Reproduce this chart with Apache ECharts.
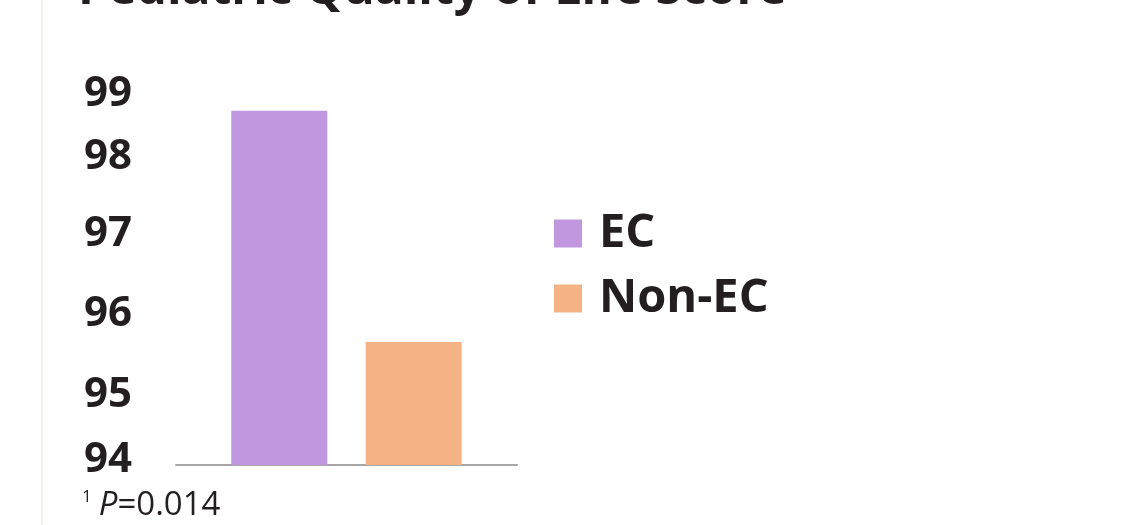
<!DOCTYPE html>
<html>
<head>
<meta charset="utf-8">
<script src="https://cdn.jsdelivr.net/npm/echarts@6/dist/echarts.min.js"></script>
<style>
  html, body { margin: 0; padding: 0; background: #fff; }
  #chart { width: 1132px; height: 525px; }
</style>
</head>
<body>
<div id="chart"></div>
<script>
// data
var categories = ['Pediatric Quality of Life Score'];
var ecValues = [98.75];
var nonEcValues = [95.65];
var seriesNames = ['EC', 'Non-EC'];
var yTicks = [94, 95, 96, 97, 98, 99];

// slide tick labels are not evenly spaced, nudge them (px, + = down)
var labelNudge = { 94: -5, 95: 5, 96: -2, 97: -7, 98: -10, 99: 2 };

var rich = {};
yTicks.forEach(function (t) {
	var n = labelNudge[t];
	rich['t' + t] = {
		fontFamily: 'Open Sans',
		fontWeight: 'bold',
		fontSize: 42,
		color: '#231f20',
		padding: n < 0 ? [0, 0, -2 * n, 0] : [2 * n, 0, 0, 0]
	};
});

var myChart = echarts.init(document.getElementById('chart'));

var option = {
	backgroundColor: '#ffffff',
	animation: false,
	title: [{
		text: 'Pediatric Quality of Life Score',
		left: 73,
		top: -39,
		textStyle: { fontFamily: 'Open Sans', fontWeight: 'bold', fontSize: 48, color: '#231f20' }
	}, {
		text: '{s|1} {i|P}{n|=0.014}',
		left: 77,
		top: 484,
		textStyle: {
			rich: {
				s: { fontFamily: 'Open Sans', fontWeight: 'normal', fontSize: 17, color: '#231f20', verticalAlign: 'top', padding: [0, 2, 14, 0] },
				i: { fontFamily: 'Open Sans', fontWeight: 'normal', fontStyle: 'italic', fontSize: 33, color: '#231f20' },
				n: { fontFamily: 'Open Sans', fontWeight: 'normal', fontSize: 33, color: '#231f20' }
			}
		}
	}],
	graphic: [{
		type: 'line',
		shape: { x1: 42, y1: 0, x2: 42, y2: 525 },
		style: { stroke: '#fbf1ec', lineWidth: 2 },
		silent: true
	}],
	legend: {
		orient: 'vertical',
		left: 549,
		top: 205,
		itemWidth: 28,
		itemHeight: 28,
		itemGap: 18,
		icon: 'rect',
		data: seriesNames,
		textStyle: {
			fontFamily: 'Open Sans',
			fontWeight: 'bold',
			fontSize: 47,
			lineHeight: 46,
			color: '#231f20',
			padding: [0, 0, 0, 12]
		}
	},
	grid: { left: 176, right: 615, top: 92, bottom: 60, containLabel: false },
	xAxis: {
		type: 'category',
		data: categories,
		axisLine: { lineStyle: { color: '#a6a6a6', width: 2 } },
		axisTick: { show: false },
		axisLabel: { show: false }
	},
	yAxis: {
		type: 'value',
		min: 94,
		max: 99,
		interval: 1,
		axisLine: { show: false },
		axisTick: { show: false },
		splitLine: { show: false },
		axisLabel: {
			margin: 44,
			formatter: function (v) { return '{t' + v + '|' + v + '}'; },
			rich: rich
		}
	},
	series: [{
		name: seriesNames[0],
		type: 'bar',
		data: ecValues,
		barWidth: 96,
		barGap: '40%',
		itemStyle: { color: '#c198df' }
	}, {
		name: seriesNames[1],
		type: 'bar',
		data: nonEcValues,
		barWidth: 96,
		itemStyle: { color: '#f4b285' }
	}]
};

myChart.setOption(option);
</script>
</body>
</html>
